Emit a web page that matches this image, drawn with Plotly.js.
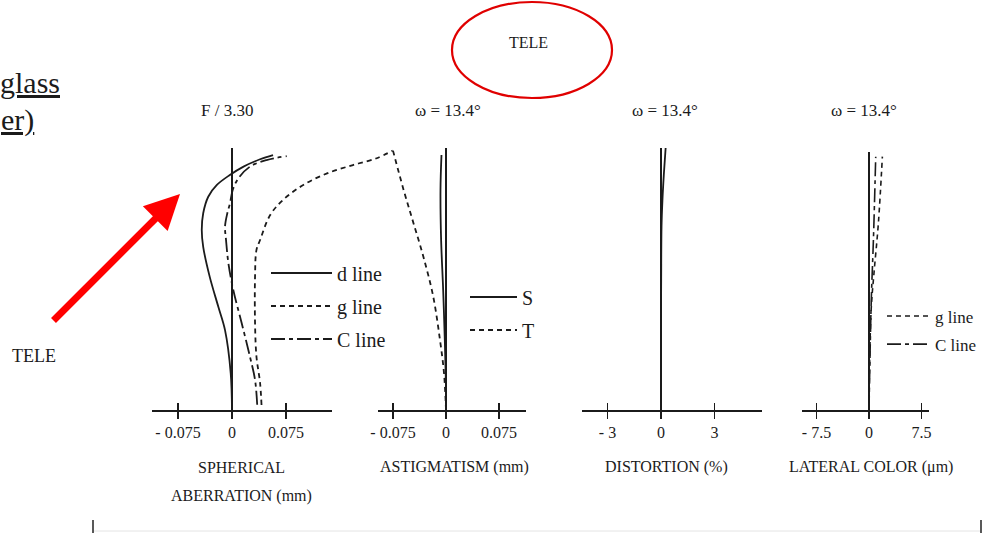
<!DOCTYPE html>
<html><head><meta charset="utf-8">
<script src="https://cdn.plot.ly/plotly-3.0.1.min.js"></script>
<style>html,body{margin:0;padding:0;background:#fff}#chart{width:997px;height:533px}</style>
</head><body><div id="chart"></div>
<script>
// ---------- data ----------
// Spherical aberration (mm) vs normalized pupil height
const sphD_y = [0, 0.141, 0.305, 0.394, 0.509, 0.623, 0.687, 0.751, 0.814, 0.859, 0.897, 0.929, 0.957, 0.973];
const sphD_x = [0, -0.0018, -0.0097, -0.019, -0.031, -0.040, -0.042, -0.040, -0.033, -0.021, -0.003, 0.016, 0.039, 0.057];
const sphG_y = [0.019, 0.103, 0.203, 0.332, 0.509, 0.611, 0.649, 0.744, 0.802, 0.859, 0.903, 0.935, 0.961, 0.99];
const sphG_x = [0.041, 0.039, 0.034, 0.032, 0.032, 0.034, 0.039, 0.053, 0.071, 0.099, 0.132, 0.168, 0.201, 0.223];
const sphC_y = [0.02, 0.115, 0.203, 0.331, 0.458, 0.560, 0.649, 0.700, 0.751, 0.789, 0.840, 0.884, 0.929, 0.954, 0.969];
const sphC_x = [0.035, 0.032, 0.025, 0.0135, 0.0018, -0.005, -0.0083, -0.0097, -0.0065, -0.0028, 0.001, 0.0088, 0.025, 0.048, 0.076];
// Astigmatism (mm) vs normalized field
const astS_y = [0, 0.076, 0.267, 0.458, 0.649, 0.84, 0.973];
const astS_x = [0, 0, -0.0017, -0.004, -0.0069, -0.0078, -0.0064];
const astT_y = [0, 0.140, 0.267, 0.432, 0.585, 0.713, 0.840, 0.99];
const astT_x = [0, -0.0028, -0.0085, -0.018, -0.032, -0.046, -0.060, -0.075];
// Distortion (%)
const dist_y = [0, 0.3, 0.5, 0.7, 0.8, 0.9, 1.0];
const dist_x = [0, 0, 0.01, 0.03, 0.08, 0.16, 0.26];
// Lateral color (um)
const latG_y = [0, 0.2, 0.394, 0.522, 0.713, 0.967];
const latG_x = [0, 0.1, 0.33, 0.71, 1.34, 1.91];
const latC_y = [0, 0.2, 0.432, 0.649, 0.967];
const latC_x = [0, 0.14, 0.34, 0.63, 0.96];
// tick labels
const sphTicks = [-0.075, 0, 0.075], sphTickText = ['- 0.075', '0', '0.075'];
const astTicks = [-0.075, 0, 0.075], astTickText = ['- 0.075', '0', '0.075'];
const distTicks = [-3, 0, 3], distTickText = ['- 3', '0', '3'];
const latTicks = [-7.5, 0, 7.5], latTickText = ['- 7.5', '0', '7.5'];

// ---------- layout helpers ----------
const W = 997, H = 533;
const px = v => v / W, py = v => 1 - v / H;
const FONT = 'Liberation Serif, Times New Roman, serif';
const INK = '#1b1b1b';
const yDom = [py(410), py(148)];
// range from pixel geometry: left edge, zero position, right edge, pixels per tick step, tick step value
const rng = (l, z, r, step, val) => [(l - z) * val / step, (r - z) * val / step];

const DASH_G = '5px,4px';
const DASH_C = '14px,4px,4px,4px';
const LW = 1.8;

const traces = [
  {x: sphD_x, y: sphD_y, xaxis: 'x5', yaxis: 'y5', name: 'd line', legend: 'legend', legendgroup: 'a',
   mode: 'lines', line: {color: INK, width: LW, shape: 'spline'}},
  {x: sphG_x, y: sphG_y, xaxis: 'x', yaxis: 'y', name: 'g line', legend: 'legend', legendgroup: 'b',
   mode: 'lines', line: {color: INK, width: LW, shape: 'spline', dash: DASH_G}},
  {x: sphC_x, y: sphC_y, xaxis: 'x5', yaxis: 'y5', name: 'C line', legend: 'legend', legendgroup: 'c',
   mode: 'lines', line: {color: INK, width: LW, shape: 'spline', dash: DASH_C}},
  {x: astS_x, y: astS_y, xaxis: 'x2', yaxis: 'y2', name: 'S', legend: 'legend2', legendgroup: 'a',
   mode: 'lines', line: {color: INK, width: LW, shape: 'spline'}},
  {x: astT_x, y: astT_y, xaxis: 'x2', yaxis: 'y2', name: 'T', legend: 'legend2', legendgroup: 'b',
   mode: 'lines', line: {color: INK, width: LW, shape: 'spline', dash: DASH_G}},
  {x: dist_x, y: dist_y, xaxis: 'x3', yaxis: 'y3', name: 'distortion', showlegend: false,
   mode: 'lines', line: {color: INK, width: LW, shape: 'spline'}},
  {x: latG_x, y: latG_y, xaxis: 'x4', yaxis: 'y4', name: 'g line', legend: 'legend3', legendgroup: 'a',
   mode: 'lines', line: {color: INK, width: 1.6, shape: 'spline', dash: DASH_G}},
  {x: latC_x, y: latC_y, xaxis: 'x4', yaxis: 'y4', name: 'C line', legend: 'legend3', legendgroup: 'b',
   mode: 'lines', line: {color: INK, width: 1.6, shape: 'spline', dash: DASH_C}}
];

const tickFont = {family: FONT, size: 16, color: INK};
function showAxis(dom, range, tv, tt, anchor) {
  const span = range[1] - range[0];
  return {domain: dom, range: range, anchor: anchor, showline: true, linecolor: INK, linewidth: 1.5,
    ticks: 'outside', ticklen: 7, tickwidth: 1.5, tickcolor: INK, tickmode: 'array', tickvals: tv, ticktext: tt,
    tickfont: tickFont, showgrid: false, zeroline: true, zerolinecolor: INK, zerolinewidth: 1.5, fixedrange: true,
    minor: {ticks: 'inside', ticklen: 7, tickwidth: 1.5, tickcolor: INK, tickmode: 'array',
      tickvals: tv.map(v => v + span * 1e-6), showgrid: false}};
}
const hiddenY = (a, top) => ({domain: [py(410), py(top || 148)], range: [0, (410 - (top || 148)) / 262],
  visible: false, anchor: a, fixedrange: true});

const rSphWide = rng(152, 232, 400, 54, 0.075);
const rSph = rng(152, 232, 332, 54, 0.075);
const rAst = rng(378, 446, 525.5, 53, 0.075);
const rDist = rng(582, 661, 762, 53.5, 3);
const rLat = rng(802, 869, 929, 52.5, 7.5);

const ann = (text, x, y, size, extra) => Object.assign({text: text, x: px(x), y: py(y), xref: 'paper', yref: 'paper',
  xanchor: 'center', yanchor: 'middle', showarrow: false, font: {family: FONT, size: size, color: INK}}, extra || {});

const legendBase = (x, y, size, gap, iw) => ({x: px(x), y: py(y), xanchor: 'left', yanchor: 'top',
  bgcolor: 'rgba(0,0,0,0)', borderwidth: 0, font: {family: FONT, size: size, color: INK},
  traceorder: 'grouped', tracegroupgap: gap, itemwidth: iw});

const sphDisplay = showAxis([px(152), px(332)], rSph, sphTicks, sphTickText, 'y5');
delete sphDisplay.minor;

const layout = {
  width: W, height: H, margin: {l: 0, r: 0, t: 0, b: 0},
  paper_bgcolor: '#fff', plot_bgcolor: 'rgba(0,0,0,0)',
  showlegend: true,
  // spherical: wide data axis for the g line (runs off to the right) + display axis with d and C lines
  xaxis: {domain: [px(152), px(400)], range: rSphWide, anchor: 'y', showline: false, ticks: 'inside', ticklen: 7,
    tickwidth: 1.5, tickcolor: INK, tickmode: 'array', tickvals: sphTicks, showticklabels: false, showgrid: false,
    zeroline: false, fixedrange: true},
  yaxis: hiddenY('x'),
  xaxis5: sphDisplay,
  yaxis5: hiddenY('x5'),
  xaxis2: showAxis([px(378), px(525.5)], rAst, astTicks, astTickText, 'y2'),
  yaxis2: hiddenY('x2'),
  xaxis3: showAxis([px(582), px(762)], rDist, distTicks, distTickText, 'y3'),
  yaxis3: hiddenY('x3'),
  xaxis4: showAxis([px(802), px(929)], rLat, latTicks, latTickText, 'y4'),
  yaxis4: hiddenY('x4', 152),
  legend: legendBase(266, 253.5, 20, 4, 61),
  legend2: legendBase(465, 277.5, 20, 4, 47),
  legend3: legendBase(882, 298.5, 17, 3, 43),
  annotations: [
    ann('F / 3.30', 227, 110, 17),
    ann('\u03c9 = 13.4\u00b0', 448, 110, 17),
    ann('\u03c9 = 13.4\u00b0', 665, 110, 17),
    ann('\u03c9 = 13.4\u00b0', 864, 110, 17),
    ann('SPHERICAL', 241, 467, 16),
    ann('ABERRATION (mm)', 241, 496, 16),
    ann('ASTIGMATISM (mm)', 454, 467, 16),
    ann('DISTORTION (%)', 666, 467, 16),
    ann('LATERAL COLOR (\u03bcm)', 871, 467, 16),
    ann('TELE', 528, 42, 16),
    ann('TELE', 34, 356, 18),
    ann('<u>glass</u>', 62, 82, 30, {xanchor: 'right'}),
    ann('<u>er)</u>', 36, 120, 30, {xanchor: 'right'}),
    {text: '', x: px(180), y: py(194), xref: 'paper', yref: 'paper', showarrow: true, ax: -128, ay: 128,
     arrowhead: 2, arrowsize: 1, arrowwidth: 7, arrowcolor: '#ff0000', standoff: 0}
  ],
  shapes: [
    {type: 'circle', xref: 'paper', yref: 'paper', x0: px(452), x1: px(612), y0: py(98), y1: py(2),
     line: {color: '#e00000', width: 2.2}},
    {type: 'line', xref: 'paper', yref: 'paper', x0: px(93), x1: px(981), y0: py(531), y1: py(531),
     line: {color: '#e4e4e4', width: 1}},
    {type: 'line', xref: 'paper', yref: 'paper', x0: px(93), x1: px(93), y0: py(520), y1: py(533),
     line: {color: '#222', width: 1.5}},
    {type: 'line', xref: 'paper', yref: 'paper', x0: px(981), x1: px(981), y0: py(520), y1: py(533),
     line: {color: '#222', width: 1.5}}
  ]
};

Plotly.newPlot('chart', traces, layout, {displayModeBar: false, staticPlot: true});
</script></body></html>
